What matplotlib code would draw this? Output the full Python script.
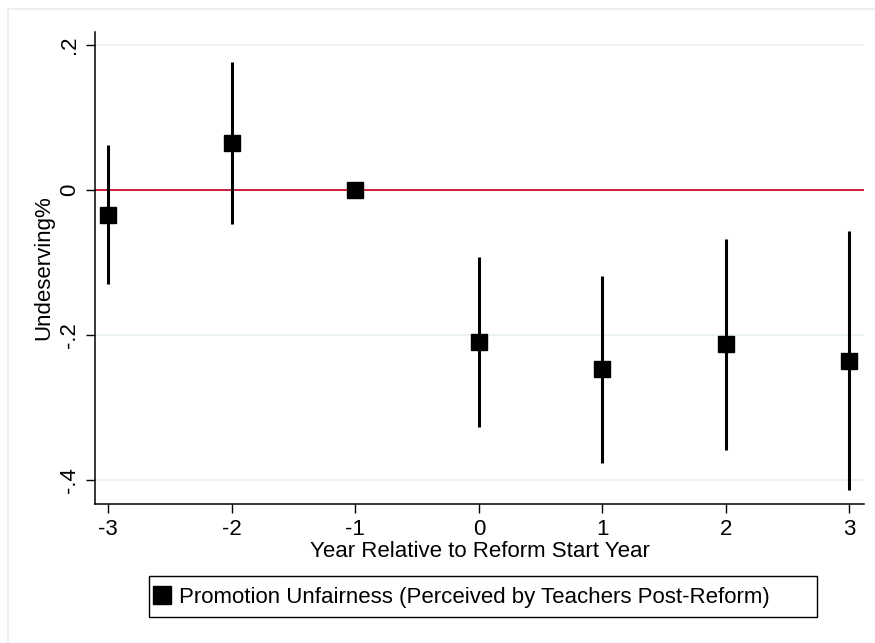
import numpy as np
import matplotlib.pyplot as plt
from matplotlib.lines import Line2D
from matplotlib.patches import Rectangle

# Event-study estimates
years = [-3, -2, -1, 0, 1, 2, 3]
coef = [-0.034, 0.065, 0.0, -0.210, -0.247, -0.213, -0.236]
ci_low = [-0.129, -0.047, 0.0, -0.327, -0.376, -0.358, -0.414]
ci_high = [0.062, 0.177, 0.0, -0.092, -0.118, -0.067, -0.056]
yticks = [-0.4, -0.2, 0.0, 0.2]
ytick_labels = ['-.4', '-.2', '0', '.2']

plt.rcParams['font.family'] = ['Liberation Sans', 'DejaVu Sans']

fig = plt.figure(figsize=(8.75, 6.43), dpi=100)
W, H = 875, 643
ax = fig.add_axes([95 / W, 1 - 504 / H, (864 - 95) / W, (504 - 32) / H])

# faint top/left edge of the graph region
fig.add_artist(Line2D([8 / W, 8 / W, 1], [0, 1 - 9 / H, 1 - 9 / H],
                      transform=fig.transFigure, color='#e6ecee', linewidth=1.2))

for y in yticks:
    ax.axhline(y, color='#e8f0f2', linewidth=1.2, zorder=0)
ax.axhline(0, color='#c8102e', linewidth=1.3, zorder=1)

yrs = np.array(years)
c = np.array(coef)
lo = np.array(ci_low)
hi = np.array(ci_high)
has_ci = hi > lo
ax.vlines(yrs[has_ci], lo[has_ci], hi[has_ci], color='black', linewidth=2.2, zorder=2)
ax.plot(yrs, c, linestyle='none', marker='s', markersize=12, color='black', zorder=3)

ax.set_xlim(-3.108, 3.119)
ax.set_ylim(-0.433, 0.218)
ax.set_xticks(years)
ax.set_xticklabels([str(v) for v in years])
ax.set_yticks(yticks)
ax.set_yticklabels(ytick_labels, rotation=90, va='center')
ax.tick_params(axis='both', direction='out', length=6.5, width=1, labelsize=16, pad=4)

for s in ['top', 'right']:
    ax.spines[s].set_visible(False)
for s in ['left', 'bottom']:
    ax.spines[s].set_linewidth(1.1)

ax.set_xlabel('Year Relative to Reform Start Year', fontsize=16, labelpad=1)
ax.set_ylabel('Undeserving%', fontsize=16, labelpad=4)

# legend: Stata-style box, wider than its contents
fig.add_artist(Rectangle((149 / W, 1 - 617 / H), (817 - 149) / W, (617 - 576) / H,
                         transform=fig.transFigure, fill=False, edgecolor='black',
                         linewidth=1.0))
handle = Line2D([], [], linestyle='none', marker='s', markersize=13, color='black')
fig.legend([handle], ['Promotion Unfairness (Perceived by Teachers Post-Reform)'],
           loc='center left', bbox_to_anchor=(150 / W, 1 - 597 / H), fontsize=16,
           frameon=False, handlelength=0.7, handletextpad=0.4, borderpad=0.2,
           borderaxespad=0)

fig.savefig('out.png', dpi=100, facecolor='white')
